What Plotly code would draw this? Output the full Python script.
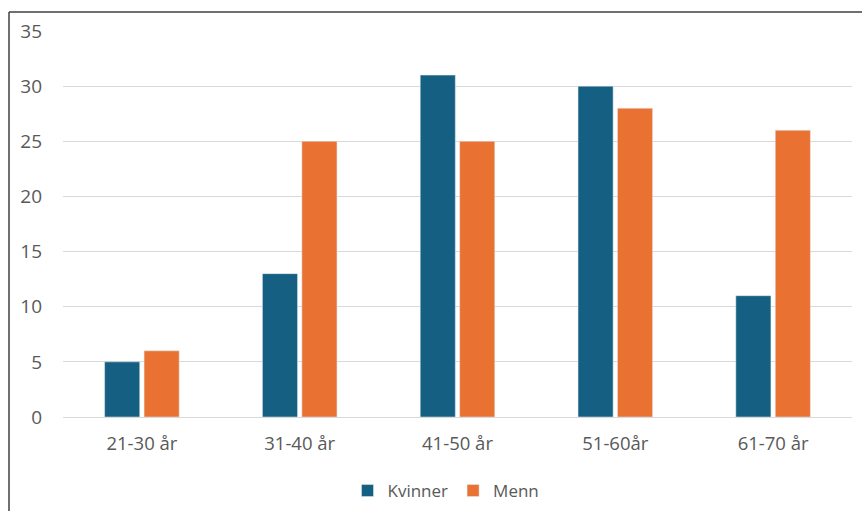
import plotly.graph_objects as go

categories = ["21-30 år", "31-40 år", "41-50 år", "51-60år", "61-70 år"]
kvinner = [5, 13, 31, 30, 11]
menn = [6, 25, 25, 28, 26]
y_ticks = [0, 5, 10, 15, 20, 25, 30, 35]

W, H = 862, 511
L, R, T, B = 63, 10, 31, 94
pw = W - L - R
ph = H - T - B

fig = go.Figure()
fig.add_trace(go.Bar(name="Kvinner", x=categories, y=kvinner, marker_color="#156082"))
fig.add_trace(go.Bar(name="Menn", x=categories, y=menn, marker_color="#E97132"))

font = "'Open Sans', sans-serif"
col = "#595959"
fig.update_layout(
    width=W, height=H,
    margin=dict(l=L, r=R, t=T, b=B, autoexpand=False),
    paper_bgcolor="white", plot_bgcolor="white",
    barmode="group", bargap=0.5, bargroupgap=0.11,
    font=dict(family=font, size=18, color=col),
    legend=dict(orientation="h", x=(446 - L) / pw, xanchor="center",
                y=(H - B - 491) / ph, yanchor="middle",
                font=dict(size=17, color=col), itemwidth=30,
                traceorder="normal"),
    xaxis=dict(showgrid=False, showline=False, ticks="", ticklabelstandoff=13,
               automargin=False, tickfont=dict(size=18.5, color=col)),
    yaxis=dict(range=[0, 35], tickvals=y_ticks, showgrid=True, gridcolor="#D9D9D9",
               gridwidth=1, zeroline=True, zerolinecolor="#D9D9D9", zerolinewidth=1,
               showline=False, ticks="", ticklabelstandoff=20, automargin=False,
               tickfont=dict(size=19, color=col)),
    shapes=[
        dict(type="line", xref="paper", yref="paper",
             x0=(9 - L) / pw, x1=1.2, y0=(H - B - 12) / ph, y1=(H - B - 12) / ph,
             line=dict(color="#404040", width=1.5)),
        dict(type="line", xref="paper", yref="paper",
             x0=(9 - L) / pw, x1=(9 - L) / pw, y0=(H - B - 12) / ph, y1=-0.4,
             line=dict(color="#404040", width=1.5)),
    ],
)

fig.write_html("out.html", config={"displayModeBar": False},
               post_script="document.body.style.margin='0';")
